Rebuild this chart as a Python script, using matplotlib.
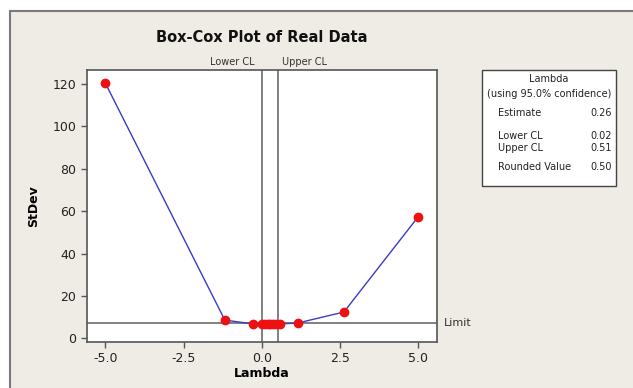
import matplotlib
matplotlib.use("Agg")
import matplotlib.pyplot as plt
from matplotlib.patches import Rectangle

# Data
lambdas = [-5.0, -1.18, -0.29, 0.02, 0.12, 0.2, 0.26, 0.35, 0.45, 0.6, 1.15, 2.63, 5.0]
stdevs = [120.3, 8.6, 6.8, 6.7, 6.8, 6.9, 6.6, 6.7, 6.7, 6.8, 7.2, 12.4, 57.2]
lower_cl = 0.02
upper_cl = 0.51
limit = 7.0
xticks = [-5.0, -2.5, 0.0, 2.5, 5.0]
yticks = [0, 20, 40, 60, 80, 100, 120]
legend_rows = [("Estimate", "0.26"), ("Lower CL", "0.02"), ("Upper CL", "0.51"), ("Rounded Value", "0.50")]

W, H = 633, 388
fig = plt.figure(figsize=(W / 100, H / 100), dpi=100)
fig.patch.set_facecolor("white")

# beige panel
panel = Rectangle((10 / W, -0.01), 1.02, (H - 11) / H + 0.01, transform=fig.transFigure,
                  facecolor="#EFEBE5", edgecolor="#7a7a7a", linewidth=1.5, zorder=-10)
fig.patches.append(panel)

ax = fig.add_axes([86.7 / W, (H - 341.7) / H, (436.7 - 86.7) / W, (341.7 - 70) / H])
ax.set_zorder(1)
ax.set_facecolor("white")
ax.plot(lambdas, stdevs, color="#3a3acc", linewidth=1.0, zorder=3)
ax.plot(lambdas, stdevs, linestyle="none", marker="o", markersize=6,
        markerfacecolor="#ee1111", markeredgecolor="#ee1111", zorder=4)
ax.axvline(lower_cl, color="#808080", linewidth=1.4, zorder=2)
ax.axvline(upper_cl, color="#808080", linewidth=1.4, zorder=2)
ax.axhline(limit, color="#808080", linewidth=1.4, zorder=2)

ax.set_xlim(-5.6, 5.6)
ax.set_ylim(-1.6, 126.6)
ax.set_xticks(xticks)
ax.set_xticklabels([f"{v:.1f}" for v in xticks])
ax.set_yticks(yticks)
for s in ax.spines.values():
    s.set_color("#555555")
    s.set_linewidth(1.2)
ax.tick_params(axis="both", direction="out", length=4, width=1, color="#555555",
               labelsize=9, labelcolor="#222222")

ax.set_xlabel("Lambda", fontsize=9, fontweight="bold", labelpad=1)
ax.set_ylabel("StDev", fontsize=9, fontweight="bold", labelpad=9)

ax.text(lower_cl - 0.25, 1.01, "Lower CL", transform=ax.get_xaxis_transform(),
        ha="right", va="bottom", fontsize=7, color="#333333")
ax.text(upper_cl + 0.15, 1.01, "Upper CL", transform=ax.get_xaxis_transform(),
        ha="left", va="bottom", fontsize=7, color="#333333")
ax.text(1.02, limit, "Limit", transform=ax.get_yaxis_transform(),
        ha="left", va="center", fontsize=8, color="#333333")

fig.text(261.7 / W, 1 - 38 / H, "Box-Cox Plot of Real Data", ha="center", va="center",
         fontsize=10.5, fontweight="bold", color="#111111")

# legend box
box = Rectangle((482 / W, (H - 186) / H), 134 / W, 116 / H, transform=fig.transFigure,
                facecolor="white", edgecolor="#444444", linewidth=1.0, zorder=1)
fig.patches.append(box)
cx = 549 / W
fig.text(cx, 1 - 79 / H, "Lambda", ha="center", va="center", fontsize=7, color="#222222")
fig.text(cx, 1 - 94 / H, "(using 95.0% confidence)", ha="center", va="center", fontsize=7, color="#222222")
row_y = [113, 136, 148, 167]
for (lab, val), yy in zip(legend_rows, row_y):
    fig.text(498 / W, 1 - yy / H, lab, ha="left", va="center", fontsize=7, color="#222222")
    fig.text(612 / W, 1 - yy / H, val, ha="right", va="center", fontsize=7, color="#222222")

fig.savefig("out.png", dpi=100, facecolor=fig.get_facecolor())
